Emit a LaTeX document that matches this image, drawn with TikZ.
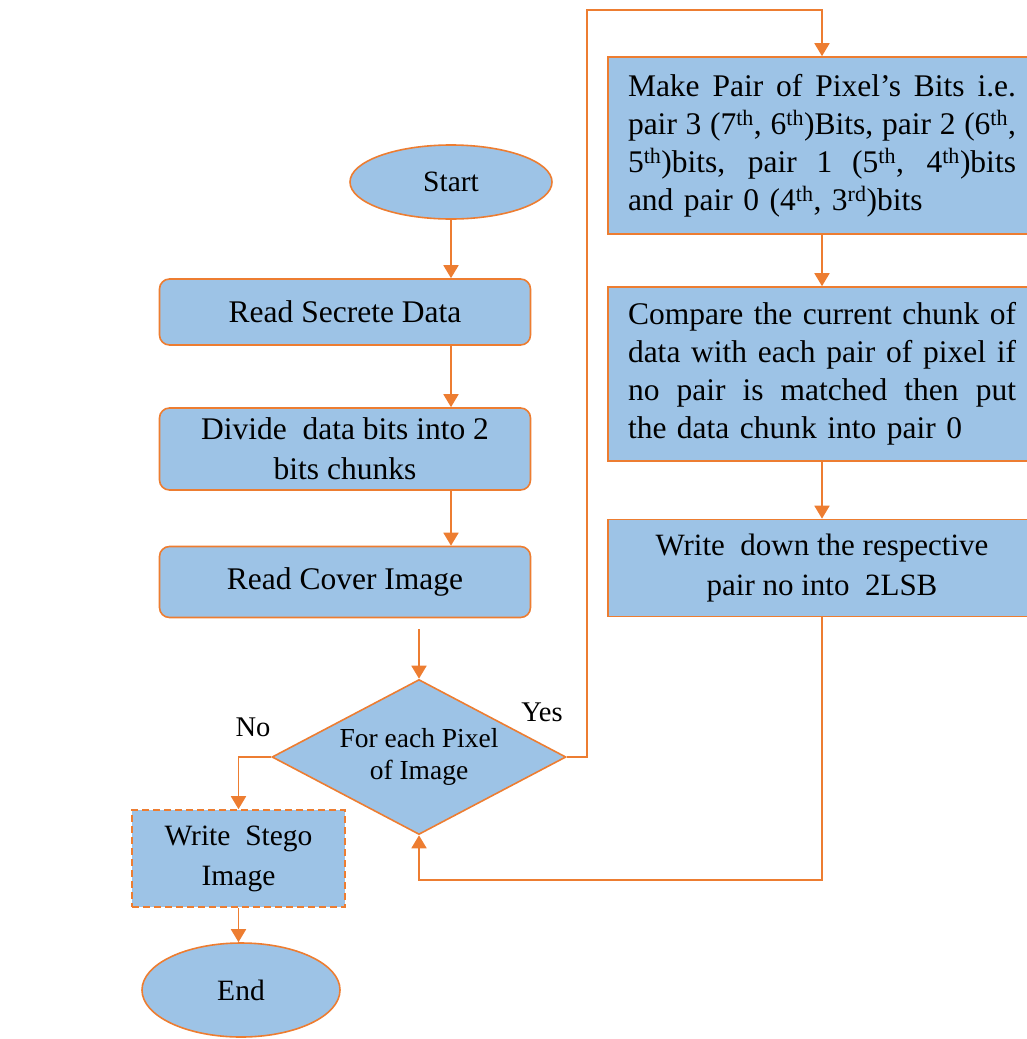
\documentclass[tikz,border=0pt]{standalone}
\usepackage{fontspec}
\setmainfont{Liberation Serif}
\usetikzlibrary{shapes.geometric,arrows.meta,calc}
\definecolor{boxfill}{RGB}{157,195,230}
\definecolor{edge}{RGB}{237,125,49}
% one justified line of a multi-line box (interword spaces stretch to fill)
\newcommand\jline[1]{\leavevmode\hbox to 388pt{\spaceskip=0pt\xspaceskip=0pt #1}}
\begin{document}
\begin{tikzpicture}[x=1pt,y=-1pt,
  base/.style={draw=edge,fill=boxfill,line width=1.6pt,inner sep=0pt,
    font=\fontsize{31.5}{38}\selectfont,text=black},
  term/.style={base,ellipse,font=\fontsize{29.5}{36}\selectfont},
  proc/.style={base,rectangle,rounded corners=10pt,align=center},
  task/.style={base,rectangle},
  flow/.style={draw=edge,line width=1.8pt,-{Triangle[width=15pt,length=13pt]}},
  tag/.style={font=\fontsize{28.5}{32}\selectfont}
]
\useasboundingbox (0,0) rectangle (1027,1039);

% left column
\node[term,minimum width=202pt,minimum height=74pt] (start) at (451,182) {Start};
\node[proc,minimum width=371pt,minimum height=66pt] (read) at (345,312) {Read Secrete Data};
\node[proc,minimum width=371pt,minimum height=82pt,font=\fontsize{31.5}{40}\selectfont] (divide) at (345,449)
  {Divide\ \ data bits\ into\ 2\\bits\ chunks};
\node[proc,minimum width=371pt,minimum height=71pt] (cover) at (345,582) {Read Cover Image};
\coordinate (inlet) at (419,629);
\node[base,diamond,aspect=1.9,minimum width=294pt,minimum height=155pt,align=center,
  font=\fontsize{27.5}{32}\selectfont] (dec) at (419,757) {For each Pixel\\of Image};
\node[task,dashed,dash pattern=on 7pt off 4pt,align=center,minimum width=213pt,minimum height=97pt,
  font=\fontsize{29.5}{40}\selectfont] (stego) at (238.5,858.5) {Write\ \ Stego\\Image};
\node[term,minimum width=198pt,minimum height=94pt] (end) at (241,990) {End};

% right column
\node[task,minimum width=428pt,minimum height=177pt,text width=388pt,align=left] (pairs) at (822,145.5)
  {\jline{Make Pair of Pixel’s Bits i.e.}\\
   \jline{pair 3 (7\textsuperscript{th}, 6\textsuperscript{th})Bits, pair 2 (6\textsuperscript{th},}\\
   \jline{5\textsuperscript{th})bits, pair 1 (5\textsuperscript{th}, 4\textsuperscript{th})bits}\\
   and pair 0 (4\textsuperscript{th}, 3\textsuperscript{rd})bits};
\node[task,minimum width=428pt,minimum height=174pt,text width=388pt,align=left] (compare) at (822,374)
  {\jline{Compare the current chunk of}\\
   \jline{data with each pair of pixel if}\\
   \jline{no pair is matched then put}\\
   the data chunk into pair 0};
\node[task,minimum width=428pt,minimum height=97pt,align=center,font=\fontsize{31}{40}\selectfont] (write) at (822,568)
  {Write\ \ down the respective\\pair no into\ \ 2LSB};

% connectors
\coordinate (yesup) at (587,10);
\coordinate (back) at (822,880);
\draw[flow] (start) -- (start |- read.north);
\draw[flow] (start |- read.south) -- (start |- divide.north);
\draw[flow] (start |- divide.south) -- (start |- cover.north);
\draw[flow] (inlet) -- (dec.north);
\draw[flow] (dec.east) -| (yesup) -| (pairs.north);
\draw[flow] (pairs.south) -- (compare.north);
\draw[flow] (compare.south) -- (write.north);
\draw[flow] (write.south) -- (back) -| (dec.south);
\draw[flow] (dec.west) -| (stego.north);
\draw[flow] (stego.south) -- (stego.south |- end.north);

\node[tag] (no) at (253,727) {No};
\node[tag] (yes) at (542,712) {Yes};
\end{tikzpicture}
\end{document}
